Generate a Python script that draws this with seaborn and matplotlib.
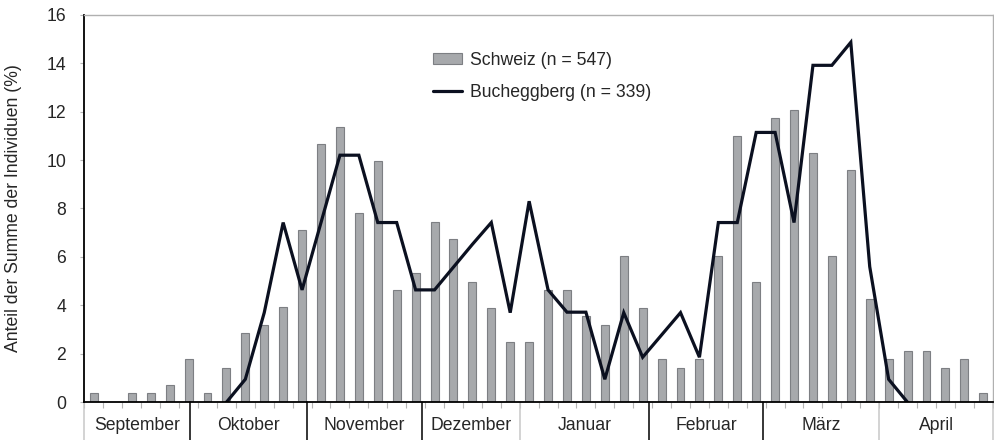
import matplotlib
matplotlib.use('Agg')
import matplotlib.pyplot as plt
import matplotlib.transforms as mtransforms
from matplotlib.patches import Patch
from matplotlib.lines import Line2D
import seaborn as sns
import numpy as np
import pandas as pd

# Style first, then the font list (set_style resets font.family)
sns.set_style('white')
plt.rcParams['font.family'] = ['Liberation Sans', 'DejaVu Sans']

# ==========================================
# DATA
# ==========================================
# Pentads from September to April (6 per month)
schweiz = [0.37, 0.0, 0.37, 0.37, 0.71, 1.78,
           0.37, 1.42, 2.85, 3.19, 3.93, 7.12,
           10.67, 11.36, 7.81, 9.96, 4.64, 5.33,
           7.46, 6.75, 4.96, 3.91, 2.48, 2.48,
           4.64, 4.64, 3.58, 3.19, 6.02, 3.91,
           1.78, 1.42, 1.78, 6.02, 11.0, 4.96,
           11.74, 12.07, 10.29, 6.02, 9.59, 4.26,
           1.78, 2.13, 2.13, 1.42, 1.78, 0.37]

bucheggberg = [np.nan] * 7 + [
    0.0, 0.95, 3.7, 7.42, 4.64,
    7.42, 10.2, 10.2, 7.42, 7.42, 4.64,
    4.64, 5.58, 6.52, 7.42, 3.7, 8.3,
    4.64, 3.72, 3.72, 0.95, 3.7, 1.86,
    2.78, 3.7, 1.86, 7.42, 7.42, 11.14,
    11.14, 7.42, 13.91, 13.91, 14.86, 5.6,
    0.95, 0.0] + [np.nan] * 4

months = ['September', 'Oktober', 'November', 'Dezember',
          'Januar', 'Februar', 'März', 'April']
# month borders in pentad units, as drawn in the label row
month_borders = [-0.5, 5.07, 11.27, 17.32, 22.52, 29.35, 35.37, 41.51, 47.5]
border_colors = ['#c8c8c8', 'black', 'black', 'black', '#c8c8c8',
                 'black', 'black', '#c8c8c8', '#c8c8c8']

label_ch = 'Schweiz (n = 547)'
label_bu = 'Bucheggberg (n = 339)'

df = pd.DataFrame({'pentade': np.arange(len(schweiz)),
                   'schweiz': schweiz,
                   'bucheggberg': bucheggberg})

TEXT = '#262626'
FS = 12.7
BAR_FILL = '#a7a9ac'
BAR_EDGE = '#7d7f83'
LINE_COL = '#0b1020'

# ==========================================
# PLOT
# ==========================================
fig, ax = plt.subplots(figsize=(9.94, 4.4), dpi=100)
fig.subplots_adjust(left=0.085, right=0.9987, bottom=0.0857, top=0.9666)

sns.barplot(data=df, x='pentade', y='schweiz', color=BAR_FILL, saturation=1,
            width=0.42, edgecolor=BAR_EDGE, linewidth=0.8, ax=ax)
ax.plot(df['pentade'], df['bucheggberg'], color=LINE_COL, linewidth=2.3,
        solid_joinstyle='miter', zorder=5)

ax.set_xlim(-0.5, 47.5)
ax.set_ylim(0, 16)
ax.set_yticks(range(0, 17, 2))
ax.set_xticks(np.arange(-0.5, 48, 1))
ax.set_xticklabels([])
ax.set_xlabel('')
ax.set_ylabel('Anteil der Summe der Individuen (%)', fontsize=FS, color=TEXT)
ax.yaxis.set_label_coords(-0.069, 0.5)

ax.tick_params(axis='x', direction='out', length=4.3, width=0.8,
               color='#b5b5b5', bottom=True)
ax.tick_params(axis='y', direction='out', length=3.2, width=0.8,
               color='#b5b5b5', pad=10, labelsize=FS, labelcolor=TEXT, left=True)

for side in ['left', 'bottom']:
    ax.spines[side].set_color('black')
    ax.spines[side].set_linewidth(1.3)
for side in ['top', 'right']:
    ax.spines[side].set_color('#b0b0b0')
    ax.spines[side].set_linewidth(1.0)
ax.spines['bottom'].set_zorder(6)

# Month label row under the axis
trans = mtransforms.blended_transform_factory(ax.transData, ax.transAxes)
for b, c in zip(month_borders, border_colors):
    ax.plot([b, b], [0, -0.1], transform=trans, color=c, linewidth=1.1,
            clip_on=False)
for i, m in enumerate(months):
    mid = (month_borders[i] + month_borders[i + 1]) / 2
    ax.text(mid, -0.0715, m, transform=trans, ha='center', va='baseline',
            fontsize=FS, color=TEXT)

# Legend
handles = [Patch(facecolor=BAR_FILL, edgecolor=BAR_EDGE, linewidth=0.8),
           Line2D([0], [0], color=LINE_COL, linewidth=2.3)]
leg = ax.legend(handles, [label_ch, label_bu], loc='upper left',
                bbox_to_anchor=(0.384, 0.905), frameon=False, fontsize=FS,
                handlelength=1.65, handleheight=0.6, handletextpad=0.45,
                labelspacing=0.85, borderpad=0, borderaxespad=0)
for t in leg.get_texts():
    t.set_color(TEXT)

fig.savefig('out.png', dpi=100)
plt.close(fig)
